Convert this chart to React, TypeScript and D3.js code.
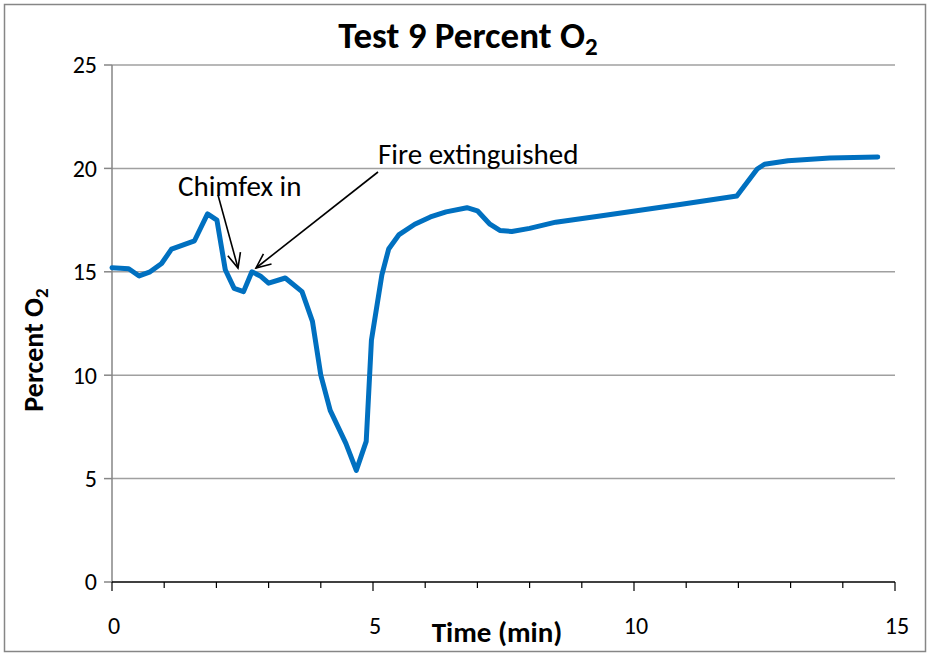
import React from "react";
import * as d3 from "d3";

const timeMin = [0, 0.32, 0.52, 0.73, 0.95, 1.14, 1.58, 1.83, 2.01, 2.17, 2.34, 2.52, 2.68, 2.84, 3.0, 3.32, 3.64, 3.84, 4.0, 4.18, 4.48, 4.68, 4.87, 4.97, 5.17, 5.3, 5.5, 5.8, 6.1, 6.4, 6.8, 7.0, 7.24, 7.43, 7.66, 8.0, 8.5, 9.35, 10.88, 11.97, 12.1, 12.36, 12.5, 12.95, 13.75, 14.67];
const percentO2 = [15.2, 15.15, 14.8, 15.0, 15.4, 16.1, 16.5, 17.8, 17.5, 15.1, 14.2, 14.04, 15.0, 14.8, 14.45, 14.7, 14.04, 12.6, 10.0, 8.3, 6.7, 5.4, 6.8, 11.7, 14.85, 16.1, 16.8, 17.3, 17.65, 17.9, 18.1, 17.95, 17.3, 17.0, 16.95, 17.1, 17.4, 17.7, 18.25, 18.67, 19.1, 19.97, 20.2, 20.37, 20.5, 20.55];
const yTicks = [0, 5, 10, 15, 20, 25];
const xMajor = [0, 5, 10, 15];
const xMinor = d3.range(0, 16);

const FONT = "Carlito, Lato, 'Open Sans', sans-serif";

export default function App() {
  const W = 930, H = 656;
  const x = d3.scaleLinear().domain([0, 15]).range([112, 895]);
  const y = d3.scaleLinear().domain([0, 25]).range([582, 65]);
  const line = d3.line<number>().x((_, i) => x(timeMin[i])).y((d) => y(d));
  const pts = percentO2;

  const arrow = (x1: number, y1: number, x2: number, y2: number) => {
    const a = Math.atan2(y2 - y1, x2 - x1);
    const L = 16, sp = 0.42;
    const h1 = [x2 - L * Math.cos(a - sp), y2 - L * Math.sin(a - sp)];
    const h2 = [x2 - L * Math.cos(a + sp), y2 - L * Math.sin(a + sp)];
    return (
      <g stroke="#000" strokeWidth={1.6} fill="none">
        <line x1={x1} y1={y1} x2={x2} y2={y2} />
        <polyline points={`${h1[0]},${h1[1]} ${x2},${y2} ${h2[0]},${h2[1]}`} />
      </g>
    );
  };

  return (
    <svg width={W} height={H} style={{ position: "absolute", left: 0, top: 0 }} fontFamily={FONT}>
      <rect x={0} y={0} width={W} height={H} fill="#fff" />
      <rect x={4.5} y={4.5} width={921} height={647} fill="none" stroke="#868686" strokeWidth={1.5} />
      {yTicks.map((t) => (
        <g key={t}>
          {t > 0 && <line x1={112} x2={895} y1={y(t)} y2={y(t)} stroke="#a0a0a0" strokeWidth={1.5} />}
          <line x1={104} x2={112} y1={y(t)} y2={y(t)} stroke="#868686" strokeWidth={1.5} />
          <text x={97} y={y(t)} dy="0.35em" textAnchor="end" fontSize={24} fill="#000">{t}</text>
        </g>
      ))}
      <line x1={112} x2={112} y1={y(25)} y2={y(0)} stroke="#868686" strokeWidth={1.5} />
      {xMinor.map((t) => (
        <line key={t} x1={x(t)} x2={x(t)} y1={y(0)} y2={y(0) + (t % 5 === 0 ? 9 : 6)} stroke="#000" strokeWidth={1.2} />
      ))}
      <line x1={112} x2={895} y1={y(0)} y2={y(0)} stroke="#000" strokeWidth={1.5} />
      {xMajor.map((t) => (
        <text key={t} x={x(t) + 2} y={634} textAnchor="middle" fontSize={24} fill="#000">{t}</text>
      ))}
      <path d={line(pts) || ""} fill="none" stroke="#0070C0" strokeWidth={5} strokeLinejoin="round" strokeLinecap="round" />
      <text x={468} y={48} textAnchor="middle" fontSize={37} fontWeight="bold" fill="#000">
        Test 9 Percent O<tspan fontSize={25} dy={7}>2</tspan>
      </text>
      <text transform="translate(43,350) rotate(-90)" textAnchor="middle" fontSize={28} fontWeight="bold" fill="#000">
        Percent O<tspan fontSize={19} dy={5}>2</tspan>
      </text>
      <text x={497} y={642} textAnchor="middle" fontSize={29} fontWeight="bold" fill="#000">Time (min)</text>
      <text x={178} y={196} fontSize={29} fill="#000">Chimfex in</text>
      <text x={378} y={164} fontSize={29} fill="#000">Fire extinguished</text>
      {arrow(218, 195, 238, 268)}
      {arrow(378, 172, 256, 268)}
    </svg>
  );
}
